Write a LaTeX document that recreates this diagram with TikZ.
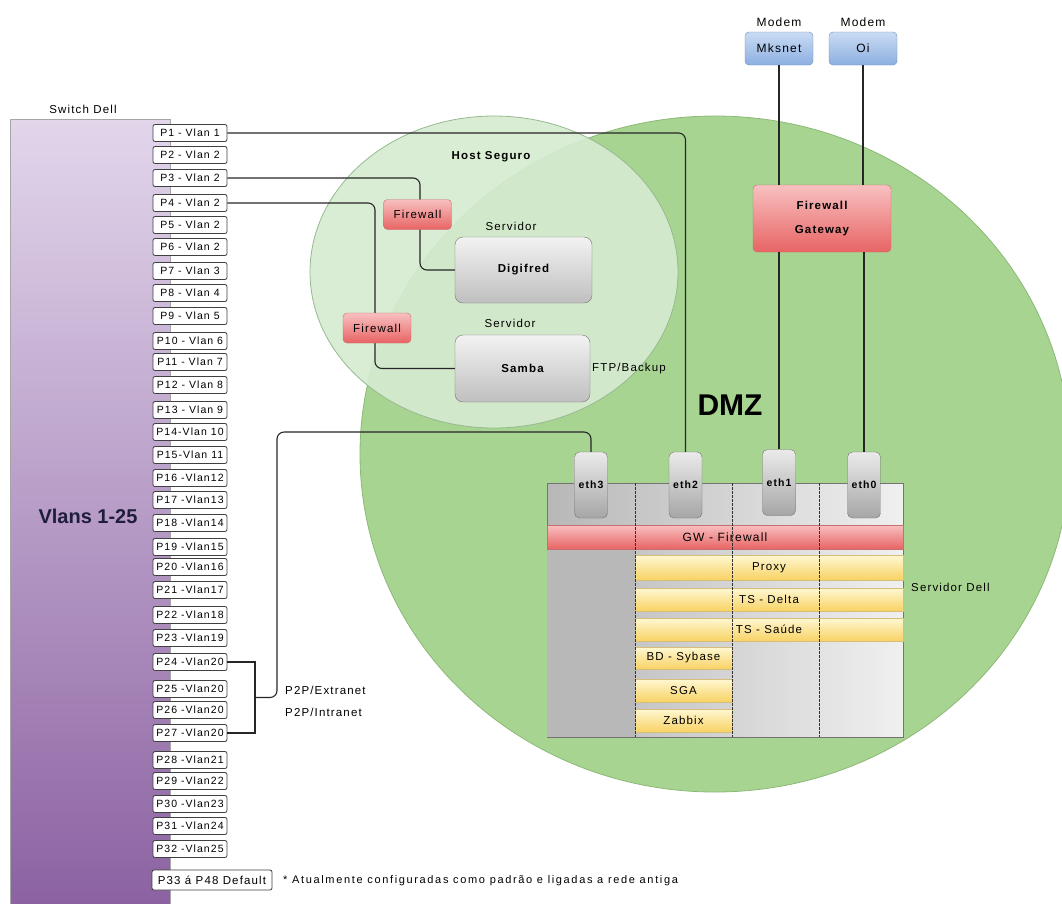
\documentclass[tikz,border=0pt]{standalone}
\usepackage{fontspec}
\setmainfont{Liberation Sans}[LetterSpace=10]
\newfontfamily\plainf{Liberation Sans}
\newfontfamily\widef{Liberation Sans}[LetterSpace=15]
\usetikzlibrary{calc}
\definecolor{dmzg}{RGB}{168,212,146}
\definecolor{dmzb}{RGB}{140,185,120}
\definecolor{hostg}{RGB}{214,234,208}
\definecolor{hostb}{RGB}{150,185,145}
\definecolor{swtop}{RGB}{226,214,235}
\definecolor{swbot}{RGB}{140,98,162}
\definecolor{redt}{RGB}{248,192,192}
\definecolor{redb}{RGB}{232,100,100}
\definecolor{redd}{RGB}{200,110,110}
\definecolor{bluet}{RGB}{202,220,243}
\definecolor{blueb}{RGB}{140,175,225}
\definecolor{blued}{RGB}{110,140,190}
\definecolor{yelt}{RGB}{255,248,210}
\definecolor{yelb}{RGB}{248,210,100}
\definecolor{yeld}{RGB}{215,190,120}
\definecolor{navy}{RGB}{30,30,60}
\tikzset{
  port/.style={draw=black!75, fill=white, rounded corners=2, line width=0.8,
    minimum width=74, minimum height=17, inner sep=0,
    font=\fontsize{10.5}{11}\selectfont},
  conn/.style={draw=black!85, line width=1.1, rounded corners=7},
  redbox/.style={draw=redd, top color=redt, bottom color=redb, rounded corners=4,
    inner sep=0, font=\fontsize{11.5}{12}\selectfont},
  greybox/.style={draw=black!55, top color=white!95!black, bottom color=black!25,
    rounded corners=8, minimum width=137, minimum height=66, inner sep=0,
    font=\bfseries\fontsize{11.5}{12}\selectfont},
  bluebox/.style={draw=blued, top color=bluet, bottom color=blueb, rounded corners=4,
    minimum width=68, minimum height=33, inner sep=0, font=\fontsize{12}{13}\selectfont},
  ethbox/.style={draw=black!55, top color=black!8, bottom color=black!35,
    rounded corners=5, minimum width=33, minimum height=66, inner sep=0,
    font=\bfseries\fontsize{10.5}{11}\selectfont},
  ybar/.style={draw=yeld, top color=yelt, bottom color=yelb, inner sep=0,
    font=\fontsize{11.5}{12}\selectfont},
  lbl/.style={inner sep=0, font=\fontsize{11.5}{12}\selectfont},
  sep/.style={draw=black!80, line width=0.9, dash pattern=on 2.5pt off 1.5pt},
}
\begin{document}
\begin{tikzpicture}[x=1pt, y=-1pt]
\useasboundingbox (0,0) rectangle (1062,903);
% zones
\fill[dmzg, draw=dmzb, line width=0.8] (715,454) ellipse [x radius=355, y radius=338];
\fill[hostg, fill opacity=0.92, draw=hostb, line width=0.8] (494,272) ellipse [x radius=184, y radius=156];
\node[lbl, font=\bfseries\fontsize{11.5}{12}\selectfont] (hostlbl) at (491,157) {Host Seguro};
\node[lbl, font=\plainf\bfseries\fontsize{30}{32}\selectfont] (dmzlbl) at (730,405) {DMZ};

% switch
\node[lbl] (swlbl) at (83,109) {Switch Dell};
\node[draw=black!35, top color=swtop, bottom color=swbot, minimum width=160, minimum height=785, inner sep=0] (switch) at (90,511.5) {};
\node[lbl, font=\plainf\bfseries\fontsize{20}{22}\selectfont, text=navy] (vlans) at (88,516) {Vlans 1-25};

\foreach \n/\y/\t in {
 1/133/{P1 - Vlan 1}, 2/155/{P2 - Vlan 2}, 3/178/{P3 - Vlan 2}, 4/203/{P4 - Vlan 2},
 5/225/{P5 - Vlan 2}, 6/247/{P6 - Vlan 2}, 7/271/{P7 - Vlan 3}, 8/293/{P8 - Vlan 4},
 9/316/{P9 - Vlan 5}, 10/341/{P10 - Vlan 6}, 11/362/{P11 - Vlan 7}, 12/385/{P12 - Vlan 8},
 13/410/{P13 - Vlan 9}, 14/432/{P14-Vlan 10}, 15/455/{P15-Vlan 11}, 16/478/{P16 -Vlan12},
 17/500/{P17 -Vlan13}, 18/523/{P18 -Vlan14}, 19/547/{P19 -Vlan15}, 20/567/{P20 -Vlan16},
 21/590/{P21 -Vlan17}, 22/615/{P22 -Vlan18}, 23/638/{P23 -Vlan19}, 24/662/{P24 -Vlan20},
 25/689/{P25 -Vlan20}, 26/710/{P26 -Vlan20}, 27/733/{P27 -Vlan20}, 28/760/{P28 -Vlan21},
 29/781/{P29 -Vlan22}, 30/804/{P30 -Vlan23}, 31/826/{P31 -Vlan24}, 32/849/{P32 -Vlan25}}
 { \node[port] (p\n) at (190,\y) {\t}; }
\node[port, minimum width=120, minimum height=20, font=\fontsize{11.5}{12}\selectfont] (p33) at (212,880) {P33 á P48 Default};
\node[lbl, anchor=west, font=\widef\fontsize{11}{12}\selectfont] (note) at (283,881) {* Atualmente configuradas como padrão e ligadas a rede antiga};

% host seguro servers
\node[lbl] (srvl1) at (511,226) {Servidor};
\node[lbl] (srvl2) at (510,323) {Servidor};
\node[greybox] (digifred) at (523.5,270) {Digifred};
\node[greybox, minimum width=135, minimum height=67] (samba) at (522.5,368.5) {Samba};
\node[lbl, anchor=west] (ftp) at (592,369) {FTP/Backup};

% modems and gateway
\node[lbl, font=\fontsize{12}{13}\selectfont] (modl1) at (779,22) {Modem};
\node[lbl, font=\fontsize{12}{13}\selectfont] (modl2) at (863,22) {Modem};
\node[bluebox] (mksnet) at (779,48.5) {Mksnet};
\node[bluebox] (oi) at (863,48.5) {Oi};
\node[redbox, minimum width=138, minimum height=67, font=\bfseries\fontsize{11.5}{12}\selectfont, align=center] (gw) at (822,218.5) {Firewall\\[12pt]Gateway};

% server dell
\node[draw=black!55, left color=black!28, right color=black!6, minimum width=356, minimum height=254, inner sep=0] (srv) at (725,610) {};
\node[fill=black!28, minimum width=88, minimum height=188, inner sep=0] (lcol) at (591,643) {};
\node[lbl, anchor=west] (srvdell) at (911,587) {Servidor Dell};
\node[redbox, rounded corners=0, minimum width=356, minimum height=24, font=\fontsize{12}{13}\selectfont] (gwfw) at (725,537) {GW - Firewall};
\node[ybar, minimum width=268, minimum height=25] (proxy) at (769,567.5) {Proxy};
\node[ybar, minimum width=268, minimum height=23] (tsd) at (769,599.5) {TS - Delta};
\node[ybar, minimum width=268, minimum height=23] (tss) at (769,629.5) {TS - Saúde};
\node[ybar, minimum width=97, minimum height=22] (bd) at (683.5,658) {BD - Sybase};
\node[ybar, minimum width=97, minimum height=23] (sga) at (683.5,690.5) {SGA};
\node[ybar, minimum width=97, minimum height=23] (zbx) at (683.5,720.5) {Zabbix};
\draw[sep] (635,483) -- (635,737);
\draw[sep] (732,483) -- (732,737);
\draw[sep] (819,483) -- (819,737);

% interfaces
\node[ethbox] (eth3) at (591,485) {eth3};
\node[ethbox] (eth2) at (685.5,485) {eth2};
\node[ethbox] (eth1) at (779,482.5) {eth1};
\node[ethbox] (eth0) at (864,485) {eth0};

% connectors
\coordinate (bm) at (255,697.5);
\coordinate (jn) at (277,697.5);
\coordinate (e3turn) at (591,432);
\draw[conn] (p1.east) -| (eth2.north);
\draw[conn] (p3.east) -| (420,230) |- (digifred.west);
\draw[conn] (p4.east) -| (375,343) |- (samba.west);
\draw[conn, rounded corners=0] (p24.east) -| (bm) |- (p27.east);
\draw[conn] (bm) -- (jn) |- (e3turn) -- (eth3.north);
\draw[conn] (mksnet.south) -- (mksnet.south |- gw.north);
\draw[conn] (oi.south) -- (oi.south |- gw.north);
\draw[conn] (eth1.north |- gw.south) -- (eth1.north);
\draw[conn] (eth0.north |- gw.south) -- (eth0.north);

\node[redbox, minimum width=68, minimum height=30] (fw1) at (417.5,214.5) {Firewall};
\node[redbox, minimum width=68, minimum height=30] (fw2) at (377,328) {Firewall};

\node[lbl, anchor=west] (p2p1) at (285,690) {P2P/Extranet};
\node[lbl, anchor=west] (p2p2) at (285,712) {P2P/Intranet};
\end{tikzpicture}
\end{document}
